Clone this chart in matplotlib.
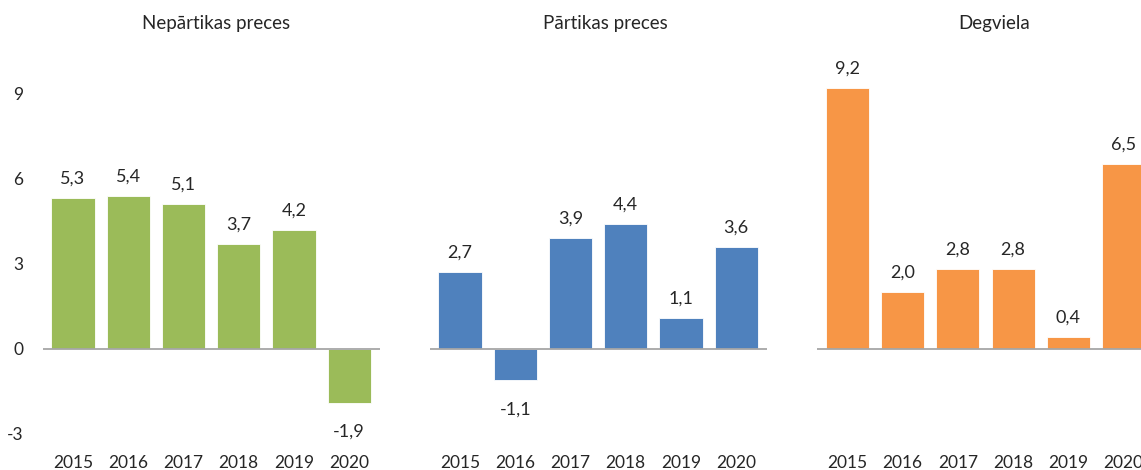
import matplotlib.pyplot as plt
import numpy as np

plt.rcParams['font.family'] = ['Lato', 'DejaVu Sans']

years = ['2015', '2016', '2017', '2018', '2019', '2020']
titles = ['Nepārtikas preces', 'Pārtikas preces', 'Degviela']
nepartikas = [5.3, 5.4, 5.1, 3.7, 4.2, -1.9]
partikas = [2.7, -1.1, 3.9, 4.4, 1.1, 3.6]
degviela = [9.2, 2.0, 2.8, 2.8, 0.4, 6.5]
series = [nepartikas, partikas, degviela]
colors = ['#9BBB59', '#4F81BD', '#F79646']
yticks = [-3, 0, 3, 6, 9]

W, H = 1141, 470
fig = plt.figure(figsize=(W / 100, H / 100), dpi=100)

# panel placement in pixels (third panel runs past the right edge as in the source)
lefts = [42.6, 429.6, 817.0]
width = 337.0
bottom, top = 451.0, 76.4
title_x = [216, 605, 994]
txt = '#262626'

x = np.arange(len(years))
for i in range(3):
    ax = fig.add_axes([lefts[i] / W, 1 - bottom / H, width / W, (bottom - top) / H])
    vals = series[i]
    ax.bar(x, vals, width=0.78, color=colors[i], edgecolor='white', linewidth=0.6, zorder=2)
    ax.axhline(0, color='#A6A6A6', lw=1.3, zorder=3)
    ax.set_xlim(-0.55, 5.55)
    ax.set_ylim(-3.6, 9.6)
    for s in ax.spines.values():
        s.set_visible(False)
    ax.set_xticks(x)
    ax.set_xticklabels(years, fontsize=12.5, color=txt)
    ax.tick_params(axis='x', length=0, pad=3)
    if i == 0:
        ax.set_yticks(yticks)
        ax.set_yticklabels([str(t) for t in yticks], fontsize=12.5, color=txt)
        ax.tick_params(axis='y', length=0, pad=14)
    else:
        ax.set_yticks([])
    for xi, v in zip(x, vals):
        lab = f'{v:.1f}'.replace('.', ',')
        off = 14 if v >= 0 else -21
        ax.annotate(lab, (xi, v), xytext=(0, off), textcoords='offset points',
                    ha='center', va='center', fontsize=13, color=txt,
                    annotation_clip=False)
    fig.text(title_x[i] / W, 1 - 24 / H, titles[i], ha='center', va='center',
             fontsize=13.5, color=txt)

fig.savefig('out.png', dpi=100)
